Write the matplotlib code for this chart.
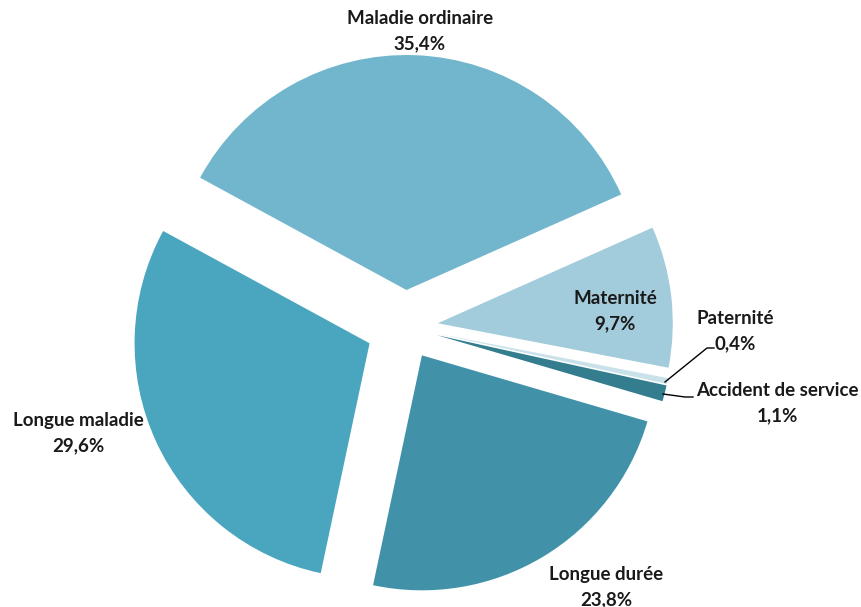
import matplotlib.pyplot as plt

# data
categories = ["Maladie ordinaire", "Longue maladie", "Longue durée",
              "Accident de service", "Paternité", "Maternité"]
shares = [35.4, 29.6, 23.8, 1.1, 0.4, 9.7]
colors = ["#71B6CC", "#4AA5BE", "#4192A9", "#337D8F", "#C9E2EA", "#A2CBDB"]
# explode offsets (pie explode is in data units here, axes are in pixels)
explode = [37, 39, 33, 33, 33, 33]

# label placement (pixel coords, y from top)
label_pos = [(420, 31), (78, 433), (606, 587), (777, 403), (735, 331), (615, 311)]

plt.rcParams["font.family"] = ["Lato", "DejaVu Sans"]

fig = plt.figure(figsize=(8.61, 6.07), dpi=100)
ax = fig.add_axes([0, 0, 1, 1])

H = 607
ax.pie(shares, colors=colors, explode=explode, startangle=24,
       counterclock=True, radius=235, center=(405, H - 327),
       wedgeprops=dict(linewidth=0), frame=True)
ax.set_xlim(0, 861)
ax.set_ylim(0, 607)
ax.set_aspect("equal")
ax.axis("off")

for name, val, (x, y) in zip(categories, shares, label_pos):
    txt = f"{name}\n{val:.1f}%".replace(".", ",")
    ax.text(x, H - y, txt, ha="center", va="center", fontsize=13.5,
            fontweight="bold", color="#1a1a1a", linespacing=1.55)

# leader lines for the two thin slices
ax.plot([665, 707, 714], [H - 382, H - 348, H - 348], color="black", lw=1)
ax.plot([663, 685, 693], [H - 394, H - 397, H - 397], color="black", lw=1)

fig.savefig("out.png", dpi=100)
